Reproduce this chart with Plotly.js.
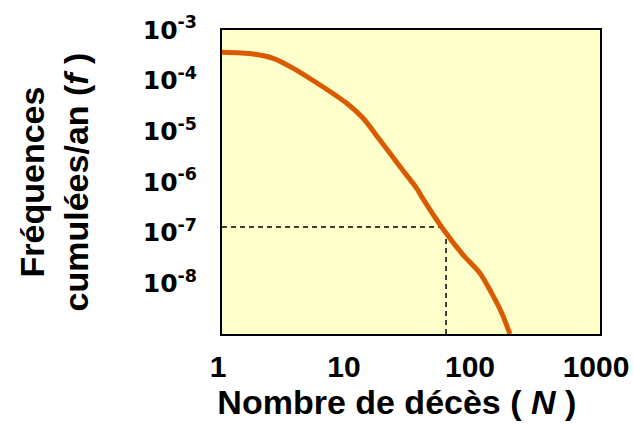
<!DOCTYPE html>
<html>
<head>
<meta charset="utf-8">
<script src="https://cdn.plot.ly/plotly-3.0.1.min.js"></script>
<style>html,body{margin:0;padding:0;background:#fff;}#chart{width:634px;height:425px;}</style>
</head>
<body>
<div id="chart"></div>
<script>
// Curve: cumulative frequency per year vs number of deaths
var deaths = [1, 1.77, 2.55, 3.68, 6.0, 9.77, 13.2, 17.9, 25.9, 35.1, 38.5, 58.9, 82.2, 111.6, 138, 166, 193];
var freq = [3.62e-4, 3.36e-4, 2.76e-4, 1.75e-4, 8.2e-5, 3.57e-5, 1.81e-5, 6.75e-6, 2.0e-6, 7.5e-7, 5.1e-7, 1.04e-7, 3.6e-8, 1.58e-8, 6.4e-9, 2.6e-9, 1.0e-9];

// Dashed reading lines
var hLineX = [1, 60];
var hLineY = [1.3e-7, 1.3e-7];
var vLineX = [60, 60];
var vLineY = [1e-9, 1.3e-7];

// Tick labels
var xTickVals = [1, 10, 100, 1000];
var xTickText = ["1", "10", "100", "1000"];
var yTickVals = [1e-3, 1e-4, 1e-5, 1e-6, 1e-7, 1e-8];
var yTickText = ["10<sup>-3</sup>", "10<sup>-4</sup>", "10<sup>-5</sup>", "10<sup>-6</sup>", "10<sup>-7</sup>", "10<sup>-8</sup>"];

var titleFont = {family: "'Liberation Sans', Arial, sans-serif", size: 34, color: "#000", weight: "bold"};

var traces = [
  {x: hLineX, y: hLineY, mode: "lines", line: {color: "#000", width: 1.5, dash: "5px,4px"}, hoverinfo: "skip"},
  {x: vLineX, y: vLineY, mode: "lines", line: {color: "#000", width: 1.5, dash: "5px,4px"}, hoverinfo: "skip"},
  {x: deaths, y: freq, mode: "lines", line: {color: "#D95A00", width: 5, shape: "spline", smoothing: 0.8}, hoverinfo: "skip"}
];

var layout = {
  width: 634, height: 425,
  margin: {l: 222, r: 34, t: 30, b: 91},
  paper_bgcolor: "#ffffff",
  plot_bgcolor: "#FFFFCC",
  showlegend: false,
  xaxis: {
    type: "log", range: [0, 3],
    tickvals: xTickVals, ticktext: xTickText,
    tickfont: {family: "'Liberation Sans', Arial, sans-serif", size: 30, color: "#000", weight: "bold"},
    ticks: "", showgrid: false, zeroline: false,
    showline: true, linecolor: "#000", linewidth: 2, mirror: true,
    ticklabelstandoff: 5, ticklabelshift: -4, ticklabeloverflow: "allow",
    automargin: false,
    title: {text: "Nombre de décès ( <i>N</i> )&nbsp;&nbsp;&nbsp;", font: titleFont, standoff: 0}
  },
  yaxis: {
    type: "log", range: [-9, -3],
    tickvals: yTickVals, ticktext: yTickText,
    tickfont: {family: "'DejaVu Sans', sans-serif", size: 25, color: "#000", weight: "bold"},
    ticks: "", showgrid: false, zeroline: false,
    showline: true, linecolor: "#000", linewidth: 2, mirror: true,
    ticklabelstandoff: 18, automargin: false,
    title: {text: "Fréquences<br>cumulées/an (<i>f</i> )", font: titleFont, standoff: 44}
  }
};

Plotly.newPlot("chart", traces, layout, {staticPlot: true, displayModeBar: false});
</script>
</body>
</html>
